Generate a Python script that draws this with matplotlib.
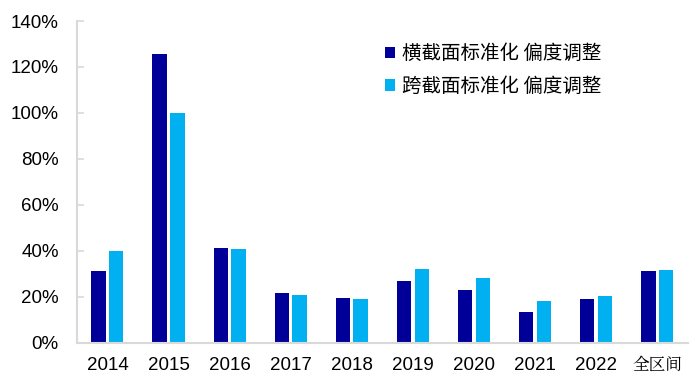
import matplotlib
matplotlib.use("Agg")
import matplotlib.pyplot as plt
import numpy as np
from matplotlib.ticker import PercentFormatter

plt.rcParams['font.family'] = ['Liberation Sans', 'Noto Sans CJK SC', 'DejaVu Sans']

# data
categories = ['2014', '2015', '2016', '2017', '2018', '2019', '2020', '2021', '2022', '全区间']
cross_section = [31.0, 125.8, 41.3, 21.5, 19.6, 27.0, 22.9, 13.5, 19.0, 31.0]   # 横截面标准化 偏度调整
cross_period = [39.7, 99.9, 40.7, 20.7, 19.0, 32.0, 28.0, 18.0, 20.3, 31.7]     # 跨截面标准化 偏度调整
labels = ['横截面标准化 偏度调整', '跨截面标准化 偏度调整']

dark = '#000099'
light = '#00B0F0'

fig = plt.figure(figsize=(6.99, 3.87), dpi=100)
ax = fig.add_axes([0.110, 0.1145, 0.874, 0.8312])

x = np.arange(len(categories))
w = 0.235
ax.bar(x - 0.145, cross_section, w, color=dark, label=labels[0])
ax.bar(x + 0.145, cross_period, w, color=light, label=labels[1])

ax.set_xlim(-0.5, 9.5)
ax.set_ylim(0, 140)
ax.set_yticks(np.arange(0, 141, 20))
ax.yaxis.set_major_formatter(PercentFormatter(decimals=0))
ax.set_xticks(x)
ax.set_xticklabels(categories)

for s in ['top', 'right']:
    ax.spines[s].set_visible(False)
for s in ['left', 'bottom']:
    ax.spines[s].set_color('#d9d9d9')
    ax.spines[s].set_linewidth(1.5)

ax.tick_params(axis='y', direction='in', length=5, width=1.2, color='#d9d9d9',
               labelsize=13.5, pad=13, labelcolor='black')
ax.tick_params(axis='x', length=0, labelsize=13.5, pad=10)
for t in ax.get_xticklabels():
    if t.get_text() == '全区间':
        t.set_fontfamily(['Noto Serif CJK SC', 'Noto Sans CJK SC'])
        t.set_fontsize(12)

leg = ax.legend(loc='upper left', bbox_to_anchor=(0.475, 0.985), frameon=False,
                handlelength=0.55, handleheight=0.55, handletextpad=0.35,
                labelspacing=0.6, prop={'family': ['Noto Sans CJK SC'], 'size': 14})

fig.savefig('out.png', dpi=100)
